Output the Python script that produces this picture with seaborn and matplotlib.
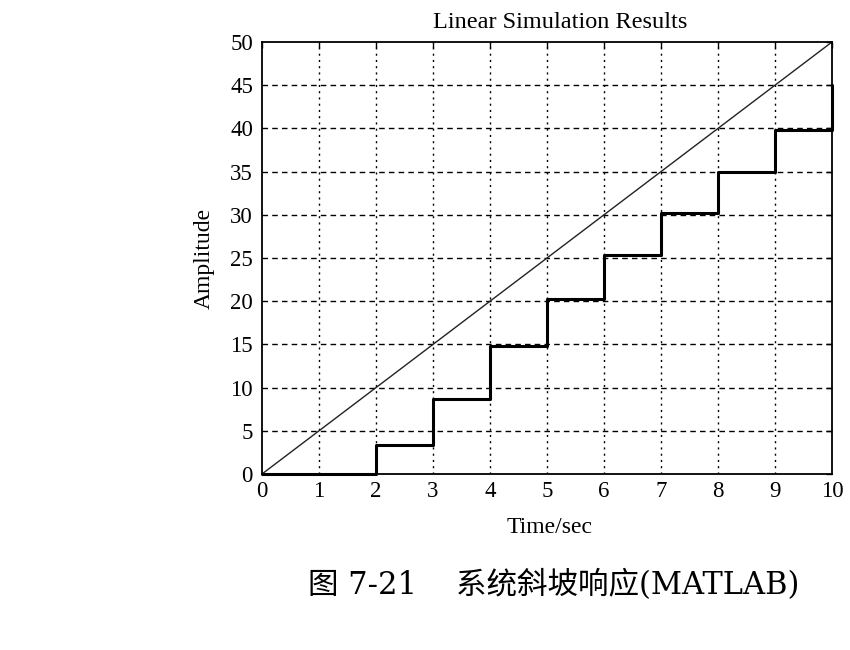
import matplotlib
matplotlib.use("Agg")
import matplotlib.pyplot as plt
import seaborn as sns
import pandas as pd

# Data
ramp_t = [0, 10]
ramp_y = [0, 50]
step_t = [0, 2, 3, 4, 5, 6, 7, 8, 9, 10]
step_y = [0, 3.3, 8.7, 14.8, 20.2, 25.3, 30.2, 35.0, 39.8, 45.0]
x_ticks = list(range(0, 11))
y_ticks = list(range(0, 51, 5))
title = "Linear Simulation Results"
x_label = "Time/sec"
y_label = "Amplitude"
caption = "图 7-21    系统斜坡响应(MATLAB)"

sns.set_style("white")
plt.rcParams["font.family"] = ["Liberation Serif", "Noto Sans CJK SC"]
plt.rcParams["text.color"] = "black"
plt.rcParams["axes.labelcolor"] = "black"
plt.rcParams["xtick.color"] = "black"
plt.rcParams["ytick.color"] = "black"

fig = plt.figure(figsize=(8.5, 6.5), dpi=100)
ax = fig.add_axes([262 / 850, 1 - 474 / 650, (832 - 262) / 850, (474 - 42) / 650])

ramp_df = pd.DataFrame({"t": ramp_t, "y": ramp_y})
step_df = pd.DataFrame({"t": step_t, "y": step_y})

sns.lineplot(data=ramp_df, x="t", y="y", ax=ax, color="#222222", linewidth=1.0)
sns.lineplot(data=step_df, x="t", y="y", ax=ax, color="black", linewidth=2.2,
             drawstyle="steps-post", clip_on=False, zorder=5)

ax.set_xlim(0, 10)
ax.set_ylim(0, 50)
ax.set_xticks(x_ticks)
ax.set_yticks(y_ticks)
ax.set_xticklabels([str(v) for v in x_ticks])
ax.set_yticklabels([str(v) for v in y_ticks])

for v in x_ticks[1:-1]:
    ax.axvline(v, color="black", linewidth=1.0, linestyle=(0, (1.5, 3)), zorder=0)
for v in y_ticks[1:-1]:
    ax.axhline(v, color="black", linewidth=1.0, linestyle=(0, (4, 3)), zorder=0)

for s in ax.spines.values():
    s.set_visible(True)
    s.set_color("black")
    s.set_linewidth(1.3)

ax.tick_params(direction="in", length=4, width=1, colors="black", labelsize=16.5,
               top=True, right=True)
ax.tick_params(axis="x", pad=5)
ax.tick_params(axis="y", pad=6.5)

ax.set_title(title, fontsize=17.5, pad=10, x=0.523)
ax.set_xlabel(x_label, fontsize=17)
ax.set_ylabel(y_label, fontsize=17)
ax.xaxis.set_label_coords(0.505, -0.1)
ax.yaxis.set_label_coords(-0.083, 0.5)

fig.text(308 / 850, 1 - 585 / 650, caption, fontsize=22, ha="left", va="center",
         family=["DejaVu Serif", "Noto Sans CJK SC"])

fig.savefig("out.png", dpi=100)
